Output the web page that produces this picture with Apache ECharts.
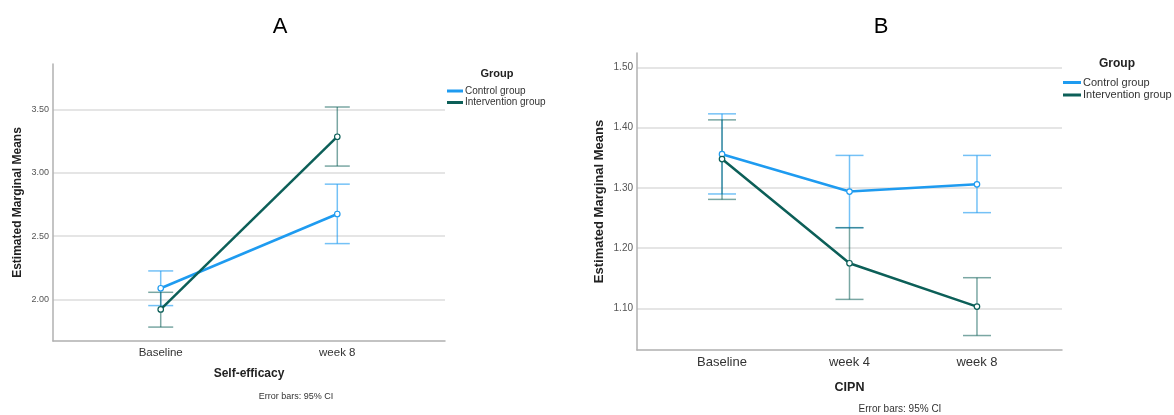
<!DOCTYPE html>
<html>
<head>
<meta charset="utf-8">
<script src="https://cdn.jsdelivr.net/npm/echarts@6/dist/echarts.min.js"></script>
<style>html,body{margin:0;padding:0;background:#fff;}#c{width:1174px;height:415px;}</style>
</head>
<body>
<div id="c"></div>
<script>
// ---- Data ----
const catsA = ['Baseline', 'week 8'];
const catsB = ['Baseline', 'week 4', 'week 8'];
const groups = ['Control group', 'Intervention group'];

const ctrlA = [2.087, 2.674];
const ctrlALo = [1.950, 2.440];
const ctrlAHi = [2.224, 2.910];
const intA = [1.920, 3.285];
const intALo = [1.780, 3.053];
const intAHi = [2.055, 3.520];

const ctrlB = [1.356, 1.294, 1.306];
const ctrlBLo = [1.290, 1.234, 1.259];
const ctrlBHi = [1.423, 1.354, 1.354];
const intB = [1.348, 1.175, 1.103];
const intBLo = [1.281, 1.115, 1.055];
const intBHi = [1.413, 1.234, 1.151];

const ticksA = [2.0, 2.5, 3.0, 3.5];
const ticksB = [1.1, 1.2, 1.3, 1.4, 1.5];

// ---- Styles ----
const C_CTRL = '#1e9bf0';
const C_INT = '#0c5f58';
const C_CTRL_CI = 'rgba(30,155,240,0.62)';
const C_INT_CI = 'rgba(12,95,88,0.55)';
const FONT = 'Liberation Sans, Arial, sans-serif';

function pts(vals) { return vals.map((v, i) => [i, v]); }
function ci(lo, hi) { return lo.map((l, i) => [i, l, hi[i]]); }

function errRender(color, half) {
  return function (params, api) {
    const x = api.value(0);
    const a = api.coord([x, api.value(1)]);
    const b = api.coord([x, api.value(2)]);
    const st = { stroke: color, lineWidth: 1.5 };
    return {
      type: 'group',
      children: [
        { type: 'line', shape: { x1: a[0], y1: a[1], x2: b[0], y2: b[1] }, style: st },
        { type: 'line', shape: { x1: a[0] - half, y1: a[1], x2: a[0] + half, y2: a[1] }, style: st },
        { type: 'line', shape: { x1: b[0] - half, y1: b[1], x2: b[0] + half, y2: b[1] }, style: st }
      ]
    };
  };
}

function lineSeries(name, data, color, idx) {
  return {
    type: 'line', name: name, xAxisIndex: idx, yAxisIndex: idx,
    data: data, symbol: 'circle', symbolSize: 5.5, showSymbol: true,
    lineStyle: { color: color, width: 2.5 },
    itemStyle: { color: '#ffffff', borderColor: color, borderWidth: 1.2 },
    color: color, z: 3, animation: false
  };
}
function errSeries(name, data, color, lineColor, idx, half) {
  return {
    type: 'custom', name: name, xAxisIndex: idx, yAxisIndex: idx,
    data: data, renderItem: errRender(color, half),
    itemStyle: { color: lineColor }, color: lineColor,
    encode: { x: 0, y: [1, 2] }, z: 2, animation: false
  };
}

function xAxis(idx, cats, min, max, name, nameGap, fs, nfs) {
  return {
    type: 'value', gridIndex: idx, min: min, max: max,
    name: name, nameLocation: 'middle', nameGap: nameGap,
    nameTextStyle: { fontFamily: FONT, fontWeight: 'bold', fontSize: nfs, color: '#222' },
    axisLine: { show: true, onZero: false, lineStyle: { color: '#b0b0b0', width: 1.5 } },
    axisTick: { show: false },
    splitLine: { show: false },
    axisLabel: {
      customValues: cats.map((c, i) => i),
      formatter: v => cats[Math.round(v)] || '',
      fontFamily: FONT, fontSize: fs, color: '#333', margin: 6
    }
  };
}
function yAxis(idx, min, max, ticks, nameGap, fs, nfs) {
  return {
    type: 'value', gridIndex: idx, min: min, max: max,
    name: 'Estimated Marginal Means', nameLocation: 'middle', nameGap: nameGap,
    nameTextStyle: { fontFamily: FONT, fontWeight: 'bold', fontSize: nfs, color: '#222' },
    axisLine: { show: true, onZero: false, lineStyle: { color: '#b0b0b0', width: 1.5 } },
    axisTick: { show: false, customValues: ticks },
    splitLine: { show: true, lineStyle: { color: '#dcdcdc', width: 1.5 } },
    axisLabel: {
      customValues: ticks,
      formatter: v => v.toFixed(2),
      fontFamily: FONT, fontSize: fs, color: '#555', margin: 4
    }
  };
}

function txt(s, x, y, fs, bold) {
  return { type: 'text', x: x, y: y, style: { text: s, fontFamily: FONT, fontSize: fs, fontWeight: bold ? 'bold' : 'normal', fill: bold === 2 ? '#000' : (bold ? '#222' : '#333'), align: 'center', verticalAlign: 'middle' } };
}

const chart = echarts.init(document.getElementById('c'), null, { renderer: 'canvas' });
chart.setOption({
  backgroundColor: '#fff',
  animation: false,
  graphic: [
    { type: 'text', x: 280, y: 27, style: { text: 'A', fontFamily: FONT, fontSize: 22, fill: '#000', align: 'center', verticalAlign: 'middle' } },
    { type: 'text', x: 881, y: 27, style: { text: 'B', fontFamily: FONT, fontSize: 22, fill: '#000', align: 'center', verticalAlign: 'middle' } },
    txt('Group', 497, 74, 11, true),
    txt('Group', 1117, 64, 12, true),
    txt('Error bars: 95% CI', 296, 397, 9, false),
    txt('Error bars: 95% CI', 900, 409, 10, false)
  ],
  legend: [
    { data: groups, orient: 'vertical', left: 447, top: 86, itemWidth: 16, itemHeight: 3, itemGap: 1.5, icon: 'rect',
      textStyle: { fontFamily: FONT, fontSize: 10, color: '#333', padding: [0, 0, 0, -3] }, padding: 0, selectedMode: false },
    { data: groups, orient: 'vertical', left: 1063, top: 77, itemWidth: 18, itemHeight: 3, itemGap: 1.5, icon: 'rect',
      textStyle: { fontFamily: FONT, fontSize: 11, color: '#333', padding: [0, 0, 0, -3] }, padding: 0, selectedMode: false }
  ],
  grid: [
    { left: 53, top: 64, width: 392, height: 277 },
    { left: 637, top: 53, width: 425, height: 297 }
  ],
  xAxis: [
    xAxis(0, catsA, -0.61, 1.61, 'Self-efficacy', 27, 11.5, 12),
    xAxis(1, catsB, -0.667, 2.667, 'CIPN', 31, 13, 12.5)
  ],
  yAxis: [
    yAxis(0, 1.67, 3.86, ticksA, 29, 9, 12),
    yAxis(1, 1.031, 1.524, ticksB, 31, 10, 13)
  ],
  series: [
    errSeries('Control group', ci(ctrlALo, ctrlAHi), C_CTRL_CI, C_CTRL, 0, 12.5),
    errSeries('Intervention group', ci(intALo, intAHi), C_INT_CI, C_INT, 0, 12.5),
    lineSeries('Control group', pts(ctrlA), C_CTRL, 0),
    lineSeries('Intervention group', pts(intA), C_INT, 0),
    errSeries('Control group', ci(ctrlBLo, ctrlBHi), C_CTRL_CI, C_CTRL, 1, 14),
    errSeries('Intervention group', ci(intBLo, intBHi), C_INT_CI, C_INT, 1, 14),
    lineSeries('Control group', pts(ctrlB), C_CTRL, 1),
    lineSeries('Intervention group', pts(intB), C_INT, 1)
  ]
});
</script>
</body>
</html>
